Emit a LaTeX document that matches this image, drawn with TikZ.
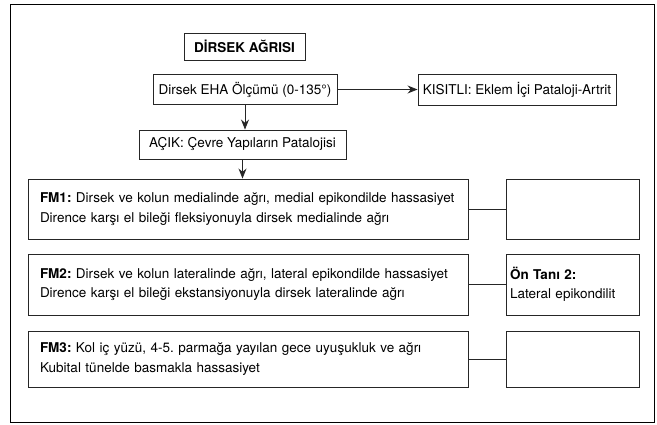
\documentclass[tikz,border=0pt]{standalone}
\usepackage{fontspec}
\setmainfont{TeX Gyre Heros}
\usetikzlibrary{arrows.meta,positioning}

\begin{document}
\begin{tikzpicture}[x=1pt, y=-1pt, >={Stealth[length=10pt,width=8pt]},
  font=\fontsize{13.5}{19.5}\selectfont\frenchspacing,
  box/.style={draw=black!85, line width=0.9pt, align=center, inner sep=0pt},
  fmbox/.style={box, align=left, text width=416pt, inner xsep=12pt, minimum height=60pt},
  dxbox/.style={box, align=left, text width=125pt, inner xsep=4pt, minimum height=60pt},
  link/.style={draw=black!85, line width=0.9pt}]
\useasboundingbox (0,0) rectangle (657,425);
\draw[line width=1pt] (10,4.5) rectangle (654.5,422);
% ---------------- top: pain, range of motion
\node[box, minimum width=121pt, minimum height=27pt] (title) at (244.5,46.5) {\textbf{DİRSEK AĞRISI}};
\node[box, minimum width=184pt, minimum height=30pt] (eha) at (245,89.5) {Dirsek EHA Ölçümü (0-135°)};
\node[box, minimum width=198pt, minimum height=31pt] (kis) at (517,89.5) {KISITLI: Eklem İçi Pataloji-Artrit};
\node[box, minimum width=207pt, minimum height=29pt] (acik) at (242.5,144.5) {AÇIK: Çevre Yapıların Patalojisi};
\draw[link, ->] (eha.east) -- (kis.west);
\draw[link, ->] (eha.south) -- (eha.south |- acik.north);
% ---------------- findings and pre-diagnoses
\node[fmbox] (fm1) at (248,209) {\textbf{FM1:} Dirsek ve kolun medialinde ağrı, medial epikondilde hassasiyet\\ Dirence karşı el bileği fleksiyonuyla dirsek medialinde ağrı};
\node[fmbox, minimum height=61pt] (fm2) at (248,284.5) {\textbf{FM2:} Dirsek ve kolun lateralinde ağrı, lateral epikondilde hassasiyet\\ Dirence karşı el bileği ekstansiyonuyla dirsek lateralinde ağrı};
\node[fmbox, minimum height=56pt] (fm3) at (248,359) {\textbf{FM3:} Kol iç yüzü, 4-5. parmağa yayılan gece uyuşukluk ve ağrı\\ Kubital tünelde basmakla hassasiyet};
\node[dxbox] (dx1) at (572.5,209) {};
\node[dxbox, minimum height=61pt] (dx2) at (572.5,284.5) {\textbf{Ön Tanı 2:}\\ Lateral epikondilit};
\node[dxbox, minimum height=56pt] (dx3) at (572.5,359) {};
\draw[link, ->] (acik.south) -- (acik.south |- fm1.north);
\draw[link] (fm1) -- (dx1);
\draw[link] (fm2) -- (dx2);
\draw[link] (fm3) -- (dx3);
\end{tikzpicture}
\end{document}
